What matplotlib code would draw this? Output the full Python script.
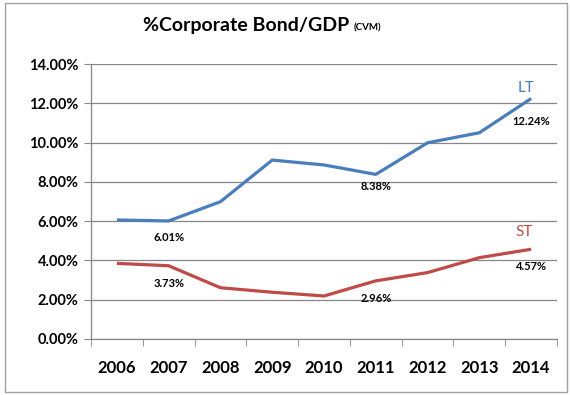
import matplotlib
matplotlib.use("Agg")
import matplotlib.pyplot as plt
from matplotlib.patches import Rectangle
import numpy as np

years = ["2006", "2007", "2008", "2009", "2010", "2011", "2012", "2013", "2014"]
lt_values = [6.06, 6.01, 6.99, 9.11, 8.86, 8.38, 9.99, 10.50, 12.24]
st_values = [3.85, 3.73, 2.61, 2.38, 2.19, 2.96, 3.38, 4.14, 4.57]
lt_labels = {1: "6.01%", 5: "8.38%", 8: "12.24%"}
st_labels = {1: "3.73%", 5: "2.96%", 8: "4.57%"}
yticks = [0, 2, 4, 6, 8, 10, 12, 14]

plt.rcParams['font.family'] = ['Lato', 'DejaVu Sans']

fig = plt.figure(figsize=(5.7, 3.95), dpi=100)
fig.patches.append(Rectangle((5/570, 3/395), 562/570, 389/395, transform=fig.transFigure,
                             fill=False, edgecolor="#A0A0A0", linewidth=1))
ax = fig.add_axes([91/570, (395-339)/395, (557-91)/570, (339-64)/395])

blue = "#4A7EBB"
red = "#BE4B48"
x = np.arange(len(years))
ax.plot(x, lt_values, color=blue, linewidth=2.3, solid_capstyle="butt")
ax.plot(x, st_values, color=red, linewidth=2.3, solid_capstyle="butt")

px = 72 / 100.0  # points per pixel
lt_off = {1: 17, 5: 12.5, 8: 23}
for i, t in lt_labels.items():
    ax.annotate(t, (x[i], lt_values[i]), xytext=(0, -lt_off[i] * px), textcoords="offset points",
                ha="center", va="center", fontsize=8, fontweight="bold")
for i, t in st_labels.items():
    ax.annotate(t, (x[i], st_values[i]), xytext=(0, -17.5 * px), textcoords="offset points",
                ha="center", va="center", fontsize=8, fontweight="bold")
ax.annotate("LT", (x[-1], lt_values[-1]), xytext=(-5 * px, 11 * px), textcoords="offset points",
            ha="center", va="center", fontsize=11, color=blue)
ax.annotate("ST", (x[-1], st_values[-1]), xytext=(-7 * px, 17 * px), textcoords="offset points",
            ha="center", va="center", fontsize=11, color=red)

ax.set_xlim(-0.5, len(years) - 0.5)
ax.set_ylim(0, 14)
ax.set_yticks(yticks)
ax.set_yticklabels([f"{v:.2f}%" for v in yticks], fontsize=10.5, fontweight="bold")
ax.set_xticks(x)
ax.set_xticklabels(years, fontsize=12, fontweight="bold")
ax.set_xticks(np.arange(-0.5, len(years)), minor=True)
ax.tick_params(axis="x", which="major", length=0, pad=15)
ax.tick_params(axis="x", which="minor", length=5, color="#868686", direction="out")
ax.tick_params(axis="y", length=5, color="#868686", direction="out", pad=4)
ax.grid(axis="y", color="#868686", linewidth=0.9)
ax.set_axisbelow(True)
for s in ["top", "right"]:
    ax.spines[s].set_visible(False)
for s in ["left", "bottom"]:
    ax.spines[s].set_color("#868686")
    ax.spines[s].set_linewidth(0.9)

fig.text(143/570, (395-25)/395, "%Corporate Bond/GDP", ha="left", va="center",
         fontsize=14, fontweight="bold", transform=fig.transFigure)
fig.text(354/570, (395-28)/395, "(CVM)", ha="left", va="center",
         fontsize=7, fontweight="bold", transform=fig.transFigure)

fig.savefig("out.png", dpi=100)
